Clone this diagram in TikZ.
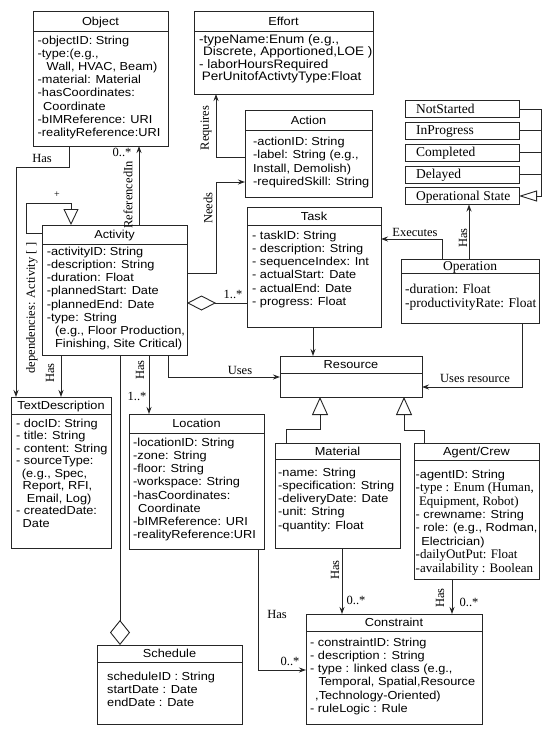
\documentclass[tikz,border=0pt]{standalone}
\usepackage{fontspec}
\setmainfont{Liberation Serif}
\setsansfont{Liberation Sans}[FakeStretch=1.1]
\usetikzlibrary{arrows.meta,calc}

\newcommand\umlclass[9]{%
  \node[clsbox, minimum width={#4pt}, minimum height={#5pt}] (#1) at ({#2+#4/2},{#3+#5/2}) {};
  \draw[clsline] ({#2},{#3+#6}) -- ({#2+#4},{#3+#6});
  \node[clstitle] (#1-t) at ({#2+#4/2},{#3+#6/2}) {#7};
  \node[clsbody,#9] (#1-b) at ({#2},{#3+#6}) {#8};
}
\newcommand\agtserif{\rmfamily\fontsize{13}{13.4}\selectfont}
\newcommand\opfont{\rmfamily\fontsize{13.5}{14}\selectfont}

\tikzset{
 clsbox/.style={draw=black!85, line width=0.9pt, fill=white, inner sep=0pt, outer sep=0pt},
 clsline/.style={draw=black!85, line width=0.9pt},
 clstitle/.style={font=\sffamily\fontsize{11.6}{13}\selectfont, inner sep=0pt, text height=8.3pt, text depth=0pt},
 clsbody/.style={font=\sffamily\fontsize{11.6}{13.2}\selectfont, anchor=north west, align=left, inner sep=0pt},
 conn/.style={draw=black!85, line width=0.9pt},
 arr/.style={conn, -{Stealth[length=7pt,width=5pt]}},
 agg/.style={conn, -{Diamond[open,length=29pt,width=15pt]}},
 lbl/.style={font=\rmfamily\fontsize{12.5}{13}\selectfont, inner sep=0pt},
 stbox/.style={draw=black!85, line width=0.9pt, minimum width=114pt, minimum height=17pt, inner sep=0pt, outer sep=0pt},
 sttext/.style={anchor=west, xshift=11pt, font=\opfont, inner sep=0pt, text height=8.9pt, text depth=0pt}
}

\begin{document}
\begin{tikzpicture}[x=1pt,y=-1pt]
\useasboundingbox (0,0) rectangle (550,731);
\fill[white] (0,0) rectangle (550,731);

% ---------- classes ----------
\umlclass{obj}{33}{11}{135}{135}{20}{Object}{%
-objectID: String\\-type:(e.g.,\\\hspace*{9pt}Wall, HVAC, Beam)\\-material: Material\\-hasCoordinates:\\\hspace*{5.5pt}Coordinate\\-bIMReference: URI\\-realityReference:URI}{shift={(4.5,4.5)}}

\umlclass{eff}{194}{11}{179}{83}{20}{Effort}{%
-typeName:Enum (e.g.,\\\hspace*{4pt}Discrete, Apportioned,LOE )\\- laborHoursRequired\\\hspace*{2.7pt}PerUnitofActivtyType:Float}{shift={(5,3)}, font=\sffamily\fontsize{12.3}{12.6}\selectfont}

\umlclass{actn}{245}{110}{127}{87}{20}{Action}{%
-actionID: String\\-label: String (e.g.,\\Install, Demolish)\\-requiredSkill: String}{shift={(8,7)}}

\umlclass{task}{247}{207}{134}{120}{18}{Task}{%
- taskID: String\\- description: String\\- sequenceIndex: Int\\- actualStart: Date\\- actualEnd: Date\\- progress: Float}{shift={(5,5.7)}}

\umlclass{actv}{42}{225}{145}{130}{19}{Activity}{%
-activityID: String\\-description: String\\-duration: Float\\-plannedStart: Date\\-plannedEnd: Date\\-type: String\\\hspace*{8.3pt}(e.g., Floor Production,\\\hspace*{8.3pt}Finishing, Site Critical)}{shift={(4.7,2.7)}}

\umlclass{oper}{401}{259}{138}{64}{14}{\opfont Operation}{%
-duration: Float\\-productivityRate: Float}{shift={(4,11)}, font=\opfont}

\umlclass{res}{280}{356}{142}{41}{17}{Resource}{}{shift={(4,4)}}

\umlclass{txt}{11}{397}{100}{151}{17}{TextDescription}{%
- docID: String\\- title: String\\- content: String\\- sourceType:\\\hspace*{5.7pt}(e.g., Spec,\\\hspace*{6.5pt}Report, RFI,\\\hspace*{10.7pt}Email, Log)\\- createdDate:\\\hspace*{6.5pt}Date}{shift={(5,4.7)}, font=\sffamily\fontsize{11.6}{12.5}\selectfont}

\umlclass{loc}{129}{414}{135}{135}{19}{Location}{%
-locationID: String\\-zone: String\\-floor: String\\-workspace: String\\-hasCoordinates:\\\hspace*{5pt}Coordinate\\-bIMReference: URI\\-realityReference:URI}{shift={(4,4.7)}}

\umlclass{mat}{275}{443}{125}{105}{16}{Material}{%
-name: String\\-specification: String\\-deliveryDate: Date\\-unit: String\\-quantity: Float}{shift={(3,8.7)}}

\umlclass{agt}{414}{443}{125}{136}{17}{Agent/Crew}{%
-agentID: String\\\agtserif -type : Enum (Human,\\\agtserif\hspace*{3.3pt}Equipment, Robot)\\- crewname: String\\- role: (e.g., Rodman,\\\hspace*{5.7pt}Electrician)\\\agtserif -dailyOutPut: Float\\\agtserif -availability : Boolean}{shift={(1.5,9.7)}, font=\sffamily\fontsize{11.6}{13.4}\selectfont}

\umlclass{sch}{97}{645}{145}{79}{17}{Schedule}{%
scheduleID : String\\startDate : Date\\endDate : Date}{shift={(10,9.7)}}

\umlclass{cons}{306}{614}{176}{110}{17}{Constraint}{%
- constraintID: String\\- description : String\\- type : linked class (e.g.,\\\hspace*{8.3pt}Temporal, Spatial,Resource\\\hspace*{5pt},Technology-Oriented)\\- ruleLogic : Rule}{shift={(4,6.7)}}

% ---------- operational states ----------
\node[stbox] (ns) at (462,109) {};
\node[sttext] (ns-t) at (ns.west) {NotStarted};
\node[stbox] (ip) at (462,130.5) {};
\node[sttext] (ip-t) at (ip.west) {InProgress};
\node[stbox] (cp) at (462,152.5) {};
\node[sttext] (cp-t) at (cp.west) {Completed};
\node[stbox] (dl) at (462,174.5) {};
\node[sttext] (dl-t) at (dl.west) {Delayed};
\node[stbox] (opst) at (462,196) {};
\node[sttext] (opst-t) at (opst.west) {Operational State};

\draw[conn] (ns.east) -- (ns.east -| 541,0);
\draw[conn] (ip.east) -- (ip.east -| 541,0);
\draw[conn] (cp.east) -- (cp.east -| 541,0);
\draw[conn] (dl.east) -- (dl.east -| 541,0);
\draw[conn, -{Triangle[open,length=18pt,width=11pt]}] (ns.east -| 541,0) -- (opst.east -| 541,0) -- (opst.east);

% ---------- connectors ----------
\draw[arr] (obj.south -| 69,0) -- (69,167) -- (16,167) -- (txt.north -| 16,0);
\draw[arr] (actv.north -| 139,0) -- (obj.south -| 139,0);
\draw[conn, -{Triangle[open,length=16pt,width=15pt]}] (actv.west |- 0,233) -- (26,233) -- (26,203) -- (71,203) -- (actv.north -| 71,0);
\draw[arr] (actn.west |- 0,157) -- (216,157) -- (eff.south -| 216,0);
\draw[arr] (actv.east |- 0,273) -- (216,273) -- (216,182) -- (actn.west |- 0,182);
\draw[agg] (task.west |- 0,303) -- (actv.east |- 0,303);
\draw[arr] (oper.north -| 442,0) -- (442,239) -- (task.east |- 0,239);
\draw[arr] (oper.north -| 469,0) -- (opst.south -| 469,0);
\draw[arr] (task.south -| 313,0) -- (res.north -| 313,0);
\draw[arr] (oper.south -| 522,0) -- (522,387) -- (res.east |- 0,387);
\draw[arr] (actv.south -| 168,0) -- (168,377) -- (res.west |- 0,377);
\draw[arr] (actv.south -| 61,0) -- (txt.north -| 61,0);
\draw[arr] (actv.south -| 149,0) -- (loc.north -| 149,0);
\draw[conn, -{Diamond[open,length=25pt,width=20pt]}] (actv.south -| 120,0) -- (sch.north -| 120,0);
\draw[arr] (loc.south -| 258,0) -- (258,670) -- (cons.west |- 0,670);
\draw[arr] (mat.south -| 342,0) -- (cons.north -| 342,0);
\draw[arr] (agt.south -| 452,0) -- (cons.north -| 452,0);
\draw[conn, -{Triangle[open,length=18pt,width=16pt]}] (mat.north -| 286,0) -- (286,429) -- (320,429) -- (res.south -| 320,0);
\draw[conn, -{Triangle[open,length=18pt,width=16pt]}] (agt.north -| 424,0) -- (424,430) -- (404,430) -- (res.south -| 404,0);

% ---------- labels ----------
\node[lbl] (l1) at (42,158) {Has};
\node[lbl] (l2) at (122,152) {0..*};
\node[lbl,rotate=90] (l3) at (128,195) {ReferencedIn};
\node[lbl,rotate=90] (l4) at (206,128) {Requires};
\node[lbl,rotate=90] (l5) at (208,208) {Needs};
\node[lbl, font=\rmfamily\fontsize{10}{10}\selectfont] (l6) at (57,195) {+};
\node[lbl,rotate=90] (l7) at (32,308) {dependencies: Activity [ ]};
\node[lbl] (l8) at (233,294) {1..*};
\node[lbl] (l9) at (415,232) {Executes};
\node[lbl,rotate=90] (l10) at (463,238) {Has};
\node[lbl] (l11) at (475,378) {Uses resource};
\node[lbl] (l12) at (240,370) {Uses};
\node[lbl,rotate=90] (l13) at (50,373) {Has};
\node[lbl,rotate=90] (l14) at (140,370) {Has};
\node[lbl] (l15) at (137,396) {1..*};
\node[lbl] (l16) at (277,614) {Has};
\node[lbl] (l17) at (290,661) {0..*};
\node[lbl,rotate=90] (l18) at (335,570) {Has};
\node[lbl] (l19) at (356,600) {0..*};
\node[lbl,rotate=90] (l20) at (440,598) {Has};
\node[lbl] (l21) at (469,602) {0..*};
\end{tikzpicture}
\end{document}
